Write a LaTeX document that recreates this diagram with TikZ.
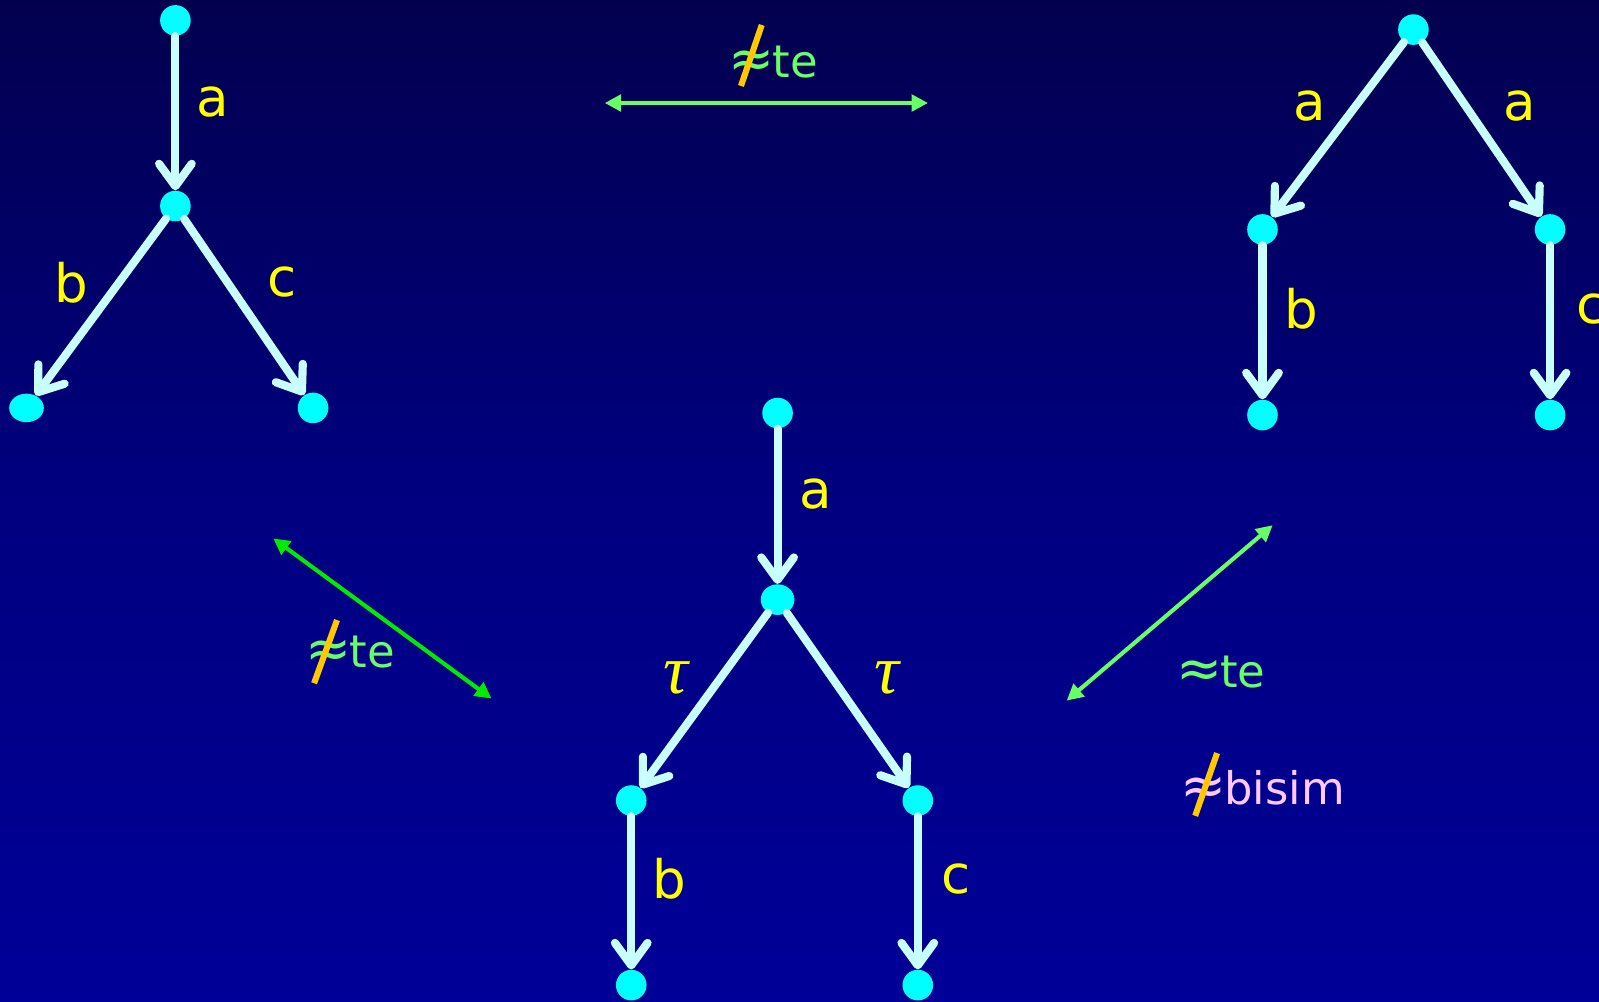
\documentclass[tikz,border=0pt]{standalone}
\usepackage{fontspec}
\setmainfont{DejaVu Sans}
\newfontfamily\taufont{Liberation Serif}
\usetikzlibrary{arrows.meta,shapes.geometric}
\definecolor{bgtop}{RGB}{2,0,78}
\definecolor{bgmid}{RGB}{0,0,128}
\definecolor{bgbot}{RGB}{0,0,152}
\definecolor{edgecol}{RGB}{200,255,255}
\definecolor{nodecol}{RGB}{0,255,255}
\definecolor{lblcol}{RGB}{255,255,0}
\definecolor{relgreen}{RGB}{102,255,102}
\definecolor{puregreen}{RGB}{0,235,0}
\definecolor{slashcol}{RGB}{255,200,0}
\definecolor{pinkcol}{RGB}{255,200,255}
\newcommand{\bigapprox}{{\fontsize{27}{27}\selectfont ≈}\kern-1pt}
\tikzset{
  st/.style={circle,fill=nodecol,inner sep=0pt,minimum size=15pt},
  tr/.style={line width=4pt,draw=edgecol,line cap=round,
    -{Straight Barb[length=11pt,width=16pt,line cap=round,line join=round]}},
  lbl/.style={text=lblcol,font=\fontsize{26}{30}\selectfont,inner sep=0pt},
  taulbl/.style={text=lblcol,font=\fontsize{34}{38}\selectfont\taufont\itshape,inner sep=0pt},
  rel/.style={line width=2pt,{Triangle[length=8pt,width=8pt]}-{Triangle[length=8pt,width=8pt]}},
  reltext/.style={font=\fontsize{22}{26}\selectfont,inner sep=0pt,anchor=base west},
  slash/.style={line width=3pt,draw=slashcol}
}
\begin{document}
\begin{tikzpicture}[x=0.5pt,y=-0.5pt]
\useasboundingbox (0,0) rectangle (1568,982);
\shade[top color=bgtop,bottom color=bgbot,middle color=bgmid] (0,0) rectangle (1568,982);
% left tree
\node[st] (l0) at (172,20) {};
\node[st] (l1) at (172,202) {};
\node[st,ellipse,minimum width=17pt,minimum height=14pt] (l2) at (26,400) {};
\node[st] (l3) at (307,400) {};
\draw[tr] (l0) -- (l1);
\draw[tr] (l1) -- (l2);
\draw[tr] (l1) -- (l3);
\node[lbl] (la) at (209,100) {a};
\node[lbl] (lb) at (70,277) {b};
\node[lbl] (lc) at (277,277) {c};
% right tree
\node[st] (r0) at (1386,29) {};
\node[st] (r1) at (1238,225) {};
\node[st] (r2) at (1520,225) {};
\node[st] (r3) at (1238,407) {};
\node[st] (r4) at (1520,407) {};
\draw[tr] (r0) -- (r1);
\draw[tr] (r0) -- (r2);
\draw[tr] (r1) -- (r3);
\draw[tr] (r2) -- (r4);
\node[lbl] (ra1) at (1284,104) {a};
\node[lbl] (ra2) at (1490,104) {a};
\node[lbl] (rb) at (1276,303) {b};
\node[lbl] (rc) at (1560,303) {c};
% middle tree
\node[st] (m0) at (762.5,405) {};
\node[st,ellipse,minimum width=16.5pt,minimum height=15pt] (m1) at (762.5,588) {};
\node[st] (m2) at (619,785) {};
\node[st] (m3) at (900,785) {};
\node[st] (m4) at (619,966) {};
\node[st] (m5) at (900,966) {};
\draw[tr] (m0) -- (m1);
\draw[tr] (m1) -- (m2);
\draw[tr] (m1) -- (m3);
\draw[tr] (m2) -- (m4);
\draw[tr] (m3) -- (m5);
\node[lbl] (ma) at (800,484) {a};
\node[taulbl] (mt1) at (663,665) {τ};
\node[taulbl] (mt2) at (870,665) {τ};
\node[lbl] (mb) at (656,862) {b};
\node[lbl] (mc) at (938,862) {c};
% relation arrows
\coordinate (ta) at (593,101);
\coordinate (tb) at (910,101);
\draw[rel,draw=relgreen,fill=relgreen] (ta) -- (tb);
\node[reltext,text=relgreen] (tt) at (714,76) {\bigapprox te};
\draw[slash] (747,24.5) -- (726.6,84.3);
\coordinate (la1) at (268,528);
\coordinate (la2) at (482,685);
\draw[rel,draw=puregreen,fill=puregreen] (la1) -- (la2);
\node[reltext,text=relgreen] (lt) at (299,655) {\bigapprox te};
\draw[slash] (330.5,608) -- (308,670);
\coordinate (ra) at (1046,687);
\coordinate (rb2) at (1248,515);
\draw[rel,draw=relgreen,fill=relgreen] (ra) -- (rb2);
\node[reltext,text=relgreen] (rt) at (1153,674) {\bigapprox te};
\node[reltext,text=pinkcol] (bt) at (1157,789) {\bigapprox bisim};
\draw[slash] (1193.5,738.5) -- (1172,800);
\end{tikzpicture}
\end{document}
